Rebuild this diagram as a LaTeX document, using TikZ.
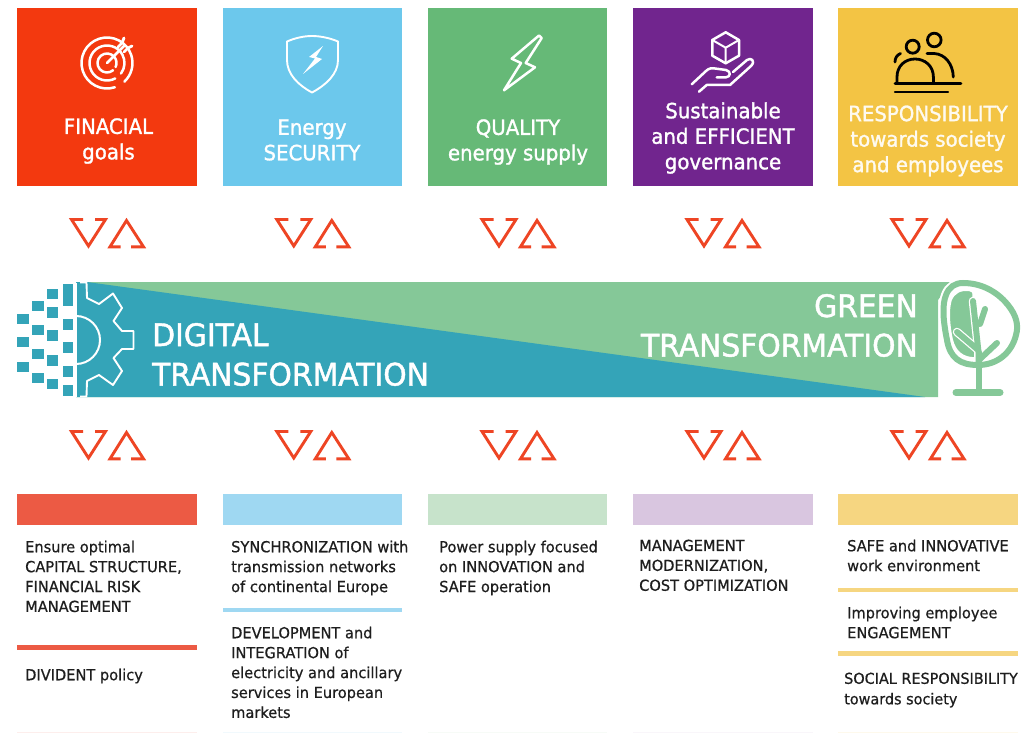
\documentclass[tikz,border=0pt]{standalone}
\usepackage{fontspec}
\setmainfont[FakeStretch=0.96,FakeBold=0.6]{DejaVu Sans}
\newfontfamily\headfont[FakeStretch=0.94,FakeBold=1.4]{DejaVu Sans}
\newfontfamily\bandfont[FakeStretch=0.96,FakeBold=1.4]{DejaVu Sans}
\definecolor{cred}{HTML}{F3390F}
\definecolor{cblue}{HTML}{6CC8EC}
\definecolor{cgreen}{HTML}{66B977}
\definecolor{cpurple}{HTML}{71258E}
\definecolor{cyellow}{HTML}{F3C444}
\definecolor{bred}{HTML}{EC5A44}
\definecolor{bblue}{HTML}{9FD8F2}
\definecolor{bgreen}{HTML}{C7E3CB}
\definecolor{bpurple}{HTML}{D9C6E0}
\definecolor{byellow}{HTML}{F6D681}
\definecolor{arrowred}{HTML}{EE4524}
\definecolor{bandteal}{HTML}{34A4B8}
\definecolor{bandgreen}{HTML}{85C898}
\definecolor{bodyink}{HTML}{1E1E1E}
\tikzset{
  headtext/.style={text=white,align=center,inner sep=0pt,font=\headfont\fontsize{21}{25.5}\selectfont},
  bandtext/.style={text=white,inner sep=0pt,font=\bandfont\fontsize{31}{39.5}\selectfont},
  bodytext/.style={text=bodyink,align=left,anchor=north west,inner sep=0pt,font=\fontsize{15.2}{19.9}\selectfont},
  iconline/.style={draw=white,line width=2.5pt,line join=round,line cap=round},
  blackline/.style={draw=black,line width=2.8pt,line cap=round},
  twinarrow/.pic={
    \draw[arrowred,line width=2.9pt,line join=miter] (83,219.5)--(71.5,219.5)--(88.5,246)--(105.5,219.5)--(95,219.5);
    \draw[arrowred,line width=2.9pt,line join=miter] (120.5,246.8)--(110,246.8)--(126.5,220.5)--(143.5,246.8)--(131,246.8);
  }
}
\def\crownpath{(963,283) .. controls (985,283) and (1000,295) .. (1008,305) .. controls (1016,315) and (1019,325) .. (1016,335) .. controls (1012,352) and (998,365) .. (978,365) .. controls (960,365) and (950,358) .. (947,340) .. controls (943,320) and (942,305) .. (946,295) .. controls (949,287) and (955,283) .. (963,283) -- cycle}
\begin{document}
\begin{tikzpicture}[x=1pt,y=-1pt]
\useasboundingbox (0,0) rectangle (1021,733);
\fill[white] (0,0) rectangle (1021,733);
% top boxes
\fill[cred] (17,8) rectangle (197,186);
\fill[cblue] (223,8) rectangle (402,186);
\fill[cgreen] (428,8) rectangle (607,186);
\fill[cpurple] (633,8) rectangle (813,186);
\fill[cyellow] (838,8) rectangle (1018,186);
% headings
\node[headtext] (h1) at (108.5,141) {FINACIAL\\goals};
\node[headtext] (h2) at (312,140) {Energy\\SECURITY};
\node[headtext] (h3) at (518,142) {QUALITY\\energy supply};
\node[headtext] (h4) at (723,138) {Sustainable\\and EFFICIENT\\governance};
\node[headtext,text=white!92!cyellow] (h5) at (928,141) {RESPONSIBILITY\\towards society\\and employees};
% target icon
\foreach \r/\a in {25.5/72,17.5/62,9.5/50}{
  \draw[iconline] ([shift={(\a:\r)}]107,63) arc[start angle=\a,end angle=\a+335,radius=\r];
}
\draw[iconline] (107,63)--(124,46);
\draw[iconline,line width=2.8pt] (118,47)--(122,43)--(124,38);
\draw[iconline,line width=2.8pt] (124,52)--(128,48)--(132,46);
% shield
\draw[iconline,line width=1.9pt] (287,41.5) .. controls (295,38) and (304,36) .. (312,36) .. controls (320,36) and (330,38) .. (338,41.5) -- (338,60) .. controls (338,74) and (326,85) .. (312,92.5) .. controls (298,85) and (287,74) .. (287,60) -- cycle;
\fill[white] (323,46)--(309,57)--(315,58.5)--(303,74)--(322,59)--(316,57)--cycle;
% bolt
\draw[iconline] (539,35.5)--(511.7,58.7)--(521,63)--(504,90.3)--(535,67.3)--(525.7,63)--(541.7,38)--cycle;
% hand and cube
\draw[iconline] (725.7,32.3)--(739,40)--(739,55.7)--(725.7,63.3)--(712.3,55.7)--(712.3,40)--cycle;
\draw[iconline,line width=2pt] (712.3,40)--(725.7,47.7)--(739,40) (725.7,47.7)--(725.7,63.3);
\draw[iconline] (699,91.7)--(706.7,85)--(730,85)--(751,66) .. controls (756,61) and (751,57) .. (747,60)--(733,72);
\draw[iconline] (691.7,84.3)--(706,71) .. controls (709,68) and (712,68) .. (715,68.5)--(726,70) .. controls (731,71) and (731,77) .. (726,77.3)--(716.7,77.3);
% people
\draw[blackline] (912.7,46.7) circle[radius=6.5];
\draw[blackline] (934.3,40) circle[radius=6.8];
\draw[blackline] (897,83) -- (897,77) .. controls (897,66) and (905,59) .. (915,59) .. controls (925,59) and (933.4,66) .. (933.4,77) -- (933.4,83);
\draw[blackline] (895,83.5)--(961,83.5);
\draw[blackline,line width=2.2pt] (895,92.3)--(948,92.3);
\draw[blackline] (927,53.5) -- (934,53.5) .. controls (945,54) and (953,64) .. (953.3,77);
\draw[blackline] (900.5,53.5) .. controls (897,55) and (895,58) .. (895,62);
% twin arrows
\foreach \dx in {0,205.3,410.5,615.5,820.5}{
  \pic at (\dx,0) {twinarrow};
  \pic at (\dx,212) {twinarrow};
}
% band
\fill[bandgreen] (76,282)--(952,282)--(938,300)--(938,397)--(76,397)--cycle;
\fill[bandteal] (76,282)--(87,282)--(925,397)--(76,397)--cycle;
% gear
\draw[white,line width=1.9pt] (76,282.5)--(76,397);
\draw[white,line width=1.9pt,line join=round]
  (80,282.5)--(86.5,282.5)--(87,298)
  --(99,304)--(113,293.5)--(122,308)--(113.5,321)
  --(122,331)--(133.5,331)--(133.5,349)--(122,349)
  --(113.5,358)--(122,371)--(113,385)--(99,375)
  --(87,381)--(86.5,396.5)--(80,396.5);
\draw[white,line width=2pt] (76,316) arc[start angle=-90,end angle=90,radius=24];
% pixels
\foreach \cx/\cy/\w/\h in {23/318.5/12/10,23/341.5/12/10,23/366.5/12/10,
  38/306/12/10,38/330/12/10,38/354/12/10,38/378/12/10,
  52/294/11/10,52/312.5/11/11,52/335.5/11/11,52/360/11/11,52/384/11/10,
  68/295/10/22,68/324.5/10/11,68/347.5/10/11,68/371.5/10/11,68/390.5/10/11}{
  \fill[bandteal] (\cx-\w/2,\cy-\h/2) rectangle (\cx+\w/2,\cy+\h/2);
}
% tree
\fill[white] \crownpath;
\draw[white,line width=10pt] (966,283) .. controls (955,283) and (949,287) .. (946,295) .. controls (942,305) and (943,320) .. (947,340) .. controls (950,358) and (960,365) .. (978,365);
\filldraw[bandgreen,draw=white,line width=1.6pt,line join=round] (970,290.5) .. controls (960,289) and (954,293) .. (951,300) .. controls (948,310) and (949,325) .. (952,339) .. controls (955,352) and (963,358) .. (975,358) -- (973,292) -- cycle;
\foreach \lw/\col in {8.5/white,6/bandgreen}{
  \draw[\col,line width=\lw pt,line cap=round,line join=round] (973,301)--(978.5,352)--(978.5,365);
  \draw[\col,line width=\lw pt,line cap=round] (985,309)--(980,324);
  \draw[\col,line width=\lw pt,line cap=round] (957,332)--(977,349);
}
\draw[bandgreen,line width=6pt,line cap=round] (997,343)--(980,359);
\draw[white,line width=1.6pt] (974.7,364)--(974.7,390);
\draw[bandgreen,line width=6pt] \crownpath;
\draw[bandgreen,line width=6pt,line cap=round] (978.5,352)--(978.5,392);
\draw[bandgreen,line width=7pt,line cap=round] (956,392.5)--(1000,392.5);
% band text
\node[bandtext,anchor=west,align=left] (digital) at (152,354.5) {DIGITAL\\TRANSFORMATION};
\node[bandtext,anchor=east,align=right] (greent) at (918,325.5) {GREEN\\TRANSFORMATION};
% bars
\fill[bred] (17,493.5) rectangle (197,524.5);
\fill[bblue] (223,493.5) rectangle (402,524.5);
\fill[bgreen] (428,493.5) rectangle (607,524.5);
\fill[bpurple] (633,493.5) rectangle (813,524.5);
\fill[byellow] (838,493.5) rectangle (1018,524.5);
% separators
\fill[bred] (17,645) rectangle (197,649.5);
\fill[bblue] (223,607.5) rectangle (402,612);
\fill[byellow] (838,587.5) rectangle (1018,591.5);
\fill[byellow] (838,651) rectangle (1018,655.5);
% faint bottom edge
\fill[bred!10] (17,732) rectangle (197,733);
\fill[bblue!15] (223,732) rectangle (402,733);
\fill[bgreen!15] (428,732) rectangle (607,733);
\fill[bpurple!15] (633,732) rectangle (813,733);
\fill[byellow!15] (838,732) rectangle (1018,733);
% body text
\node[bodytext] (t1) at (25,540.5) {Ensure optimal\\CAPITAL STRUCTURE,\\FINANCIAL RISK\\MANAGEMENT};
\node[bodytext] (t2) at (25,668.5) {DIVIDENT policy};
\node[bodytext] (t3) at (231,540.5) {SYNCHRONIZATION with\\transmission networks\\of continental Europe};
\node[bodytext] (t4) at (231,626.5) {DEVELOPMENT and\\INTEGRATION of\\electricity and ancillary\\services in European\\markets};
\node[bodytext] (t5) at (439,540.5) {Power supply focused\\on INNOVATION and\\SAFE operation};
\node[bodytext] (t6) at (639,539.5) {MANAGEMENT\\MODERNIZATION,\\COST OPTIMIZATION};
\node[bodytext] (t7) at (847,539.5) {SAFE and INNOVATIVE\\work environment};
\node[bodytext] (t8) at (847,606.5) {Improving employee\\ENGAGEMENT};
\node[bodytext,font=\fontsize{15}{20.5}\selectfont] (t9) at (844,672.5) {SOCIAL RESPONSIBILITY\\towards society};
\end{tikzpicture}
\end{document}
